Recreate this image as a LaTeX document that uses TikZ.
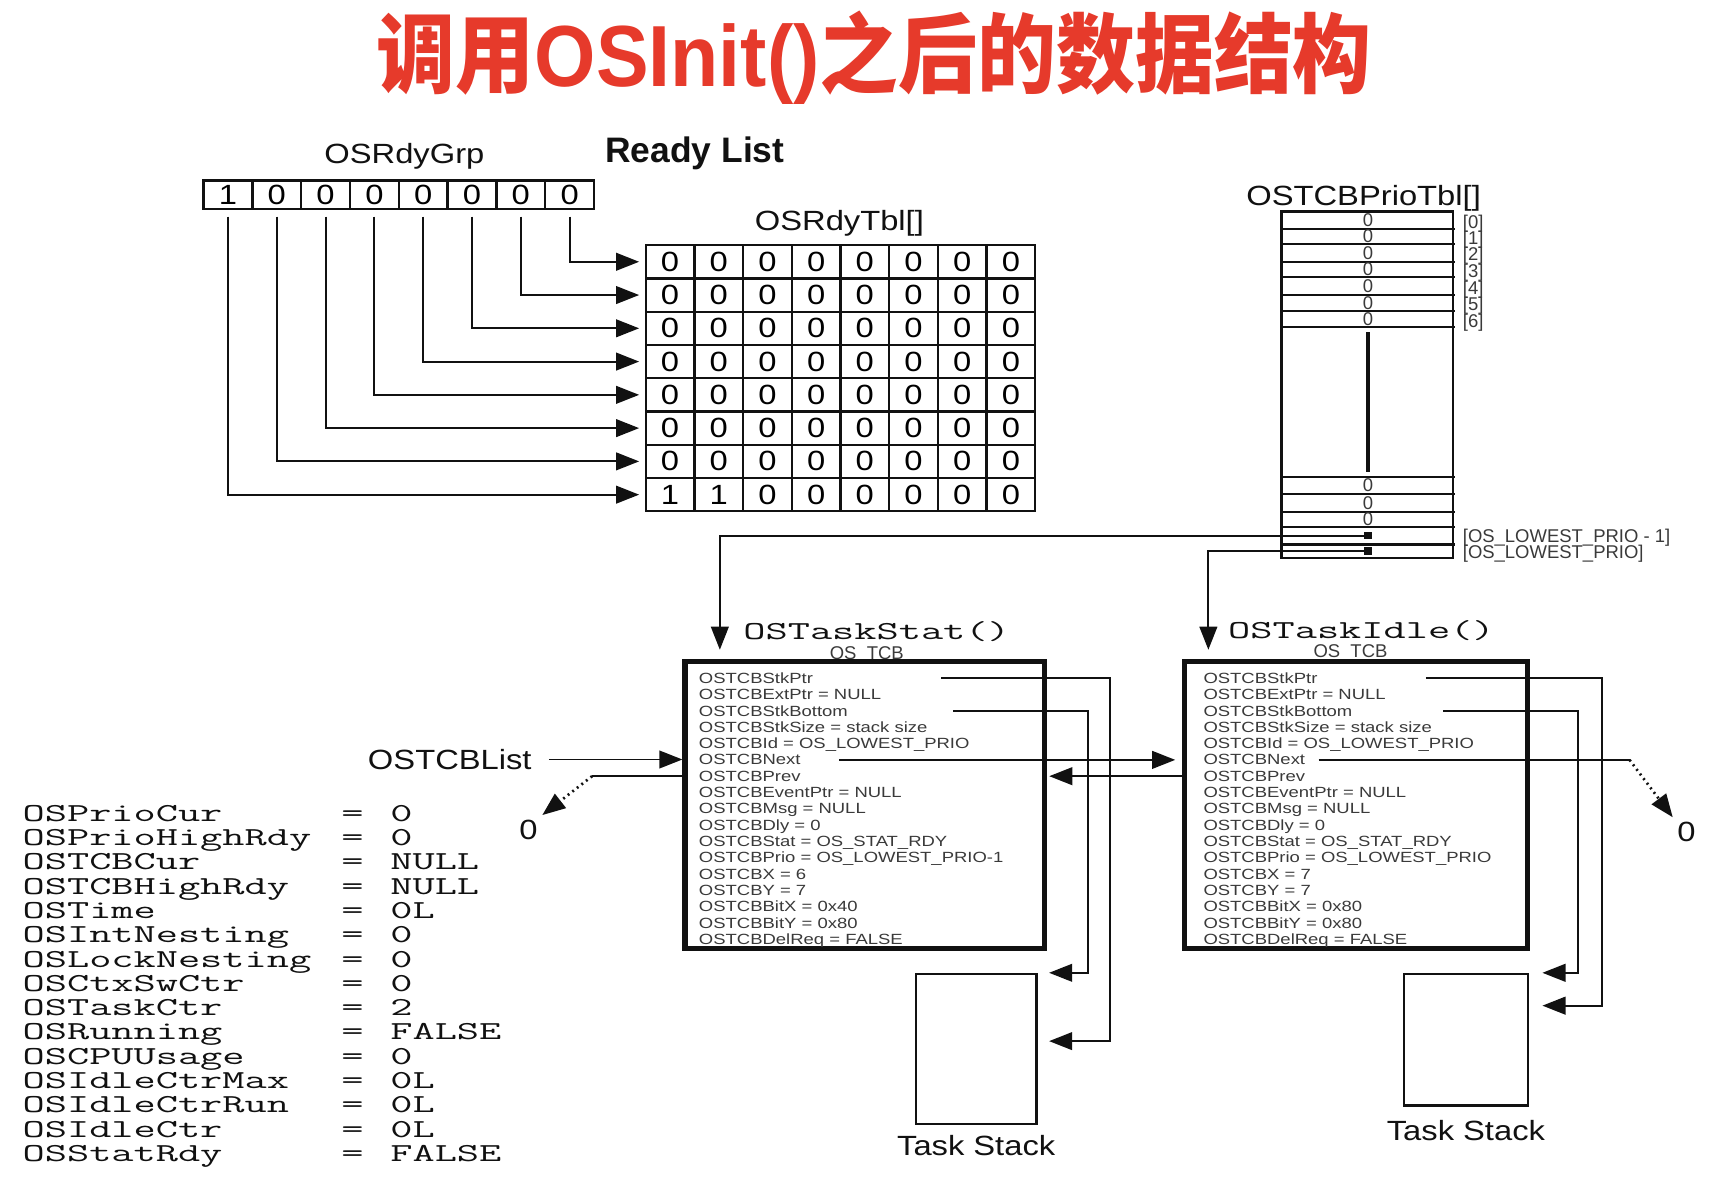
\documentclass[tikz,border=0pt]{standalone}
\usepackage{fontspec}
\setmainfont{Liberation Sans}
\newfontfamily\cjkfont{Noto Sans CJK SC}
\usepackage{graphicx}
\usetikzlibrary{arrows.meta,positioning}
\definecolor{osRed}{HTML}{E63A2B}
\definecolor{osInk}{HTML}{111111}
\definecolor{osGrey}{HTML}{3A3A3A}
% vertical squeeze, the screenshot is stretched sideways
\newcommand{\vsq}[2]{\scalebox{1}[#1]{#2}}
\tikzset{
  os/line/.style={draw=osInk, line width=0.5pt},
  os/arrow/.style={os/line, -{Triangle[length=6pt,width=4.6pt]}},
  os/dotted/.style={os/arrow, densely dotted, line width=0.7pt},
  os/title/.style={font=\fontsize{20.5}{24}\selectfont\bfseries, text=osRed},
  os/label/.style={font=\fontsize{8.5}{9}\selectfont, text=osInk, inner sep=1pt},
  os/heading/.style={font=\fontsize{9.2}{10}\selectfont\bfseries, text=osInk},
  os/cell/.style={draw=osInk, line width=0.6pt, inner sep=0pt,
    minimum width=0.445cm, minimum height=0.304cm,
    font=\fontsize{8.5}{9}\selectfont},
  os/mono/.style={font=\fontsize{11.2}{12}\selectfont\ttfamily, text=osInk,
    inner sep=0pt},
  os/field/.style={font=\fontsize{4.8}{5}\selectfont, text=osGrey,
    inner sep=0pt, anchor=base west},
  os/tiny/.style={font=\fontsize{4.8}{5}\selectfont, text=osGrey, inner sep=0pt},
  os/tcb/.style={draw=osInk, line width=1.4pt, inner sep=0pt,
    minimum height=2.62cm},
  os/stack/.style={draw=osInk, line width=0.6pt, inner sep=0pt},
}

\begin{document}
\begin{tikzpicture}[x=0.01cm, y=-0.01cm,
    arrow/.style={os/arrow},
    cell/.style={os/cell},
    field/.style={os/field},
]
\fill[white] (0,0) rectangle (1568,1091);
\useasboundingbox (0,0) rectangle (1568,1091);

\node[os/title] (title) at (799,53)
  {\vsq{1.1}{\cjkfont 调用{\rmfamily OSInit()}之后的数据结构}};

% ready list: OSRdyGrp and OSRdyTbl[]
\node[os/label] (grpLbl) at (369.5,143) {\vsq{0.85}{OSRdyGrp}};
\node[os/heading] (rdyLbl) at (635,140) {Ready List};
\foreach \b in {0,...,7} {
    \pgfmathsetmacro{\gx}{186+44.6*(7-\b)+22.3}
    \pgfmathtruncatemacro{\v}{\b==7}
    \node[cell, minimum width=0.446cm, minimum height=0.26cm] (grp\b) at (\gx,178)
      {\raisebox{-1.5pt}{\vsq{0.85}{\v}}};
}
\node[os/label] (tblLbl) at (767,204) {\vsq{0.85}{OSRdyTbl[]}};
\foreach \r in {0,...,7} {
    \foreach \b in {0,...,7} {
        \pgfmathsetmacro{\cx}{590+44.5*(7-\b)+22.25}
        \pgfmathsetmacro{\cy}{224+30.4*\r+15.2}
        \pgfmathtruncatemacro{\v}{(\r==7)&&(\b>5)}
        \node[cell] (t\r-\b) at (\cx,\cy) {\vsq{0.85}{\v}};
    }
}
\foreach \b in {0,...,7}
    \draw[arrow, shorten <=1.7pt, shorten >=1.4pt] (grp\b.south) |- (t\b-7.west);

% OSTCBPrioTbl[]
\node[os/label] (prioLbl) at (1246,181) {\vsq{0.85}{OSTCBPrioTbl[]}};
\node[os/stack, minimum width=1.564cm, minimum height=3.162cm] (prio) at (1249.2,351.5) {};
\foreach \y in {209.2,223,239.1,253.4,269.6,283.9,299.1,435.6,451.4,467.6,481.8,497.4}
    \draw[os/line, line width=0.6pt] (prio.west |- 0,\y) -- ++(160,0);
\foreach \y [count=\i from 0] in {201.3,216.1,231,246.2,261.5,276.8,291.5} {
    \node[os/tiny] (pe\i) at (1250,\y) {0};
    \node[os/tiny, anchor=west] (pl\i) at (1336,\y+3) {[\i]};
}
\foreach \y [count=\i from 7] in {443.5,459.5,474.7}
    \node[os/tiny] (pe\i) at (1250,\y) {0};
\draw[os/line, line width=0.8pt, shorten <=1.5pt, shorten >=1.5pt] (pe6.south) -- (pe7.north);
\node[fill=osInk, minimum size=0.065cm, inner sep=0pt] (lowA) at (1250,489.6) {};
\node[fill=osInk, minimum size=0.065cm, inner sep=0pt] (lowB) at (1250,503.5) {};
\node[os/tiny, anchor=west] (lowALbl) at (1336,491) {[OS\_LOWEST\_PRIO - 1]};
\node[os/tiny, anchor=west] (lowBLbl) at (1336,506) {[OS\_LOWEST\_PRIO]};

% the two OS_TCBs
\node[os/mono] (statName) at (801,577) {\vsq{0.6}{OSTaskStat()}};
\node[os/tiny] (statTcb) at (792,598) {OS\_TCB};
\node[os/mono] (idleName) at (1244,576) {\vsq{0.6}{OSTaskIdle()}};
\node[os/tiny] (idleTcb) at (1234,597) {OS\_TCB};
\node[os/tcb, minimum width=3.28cm] (stat) at (790.1,735.7) {};
\node[os/tcb, minimum width=3.13cm] (idle) at (1238.9,735.7) {};

\foreach \fld [count=\i] in {OSTCBStkPtr, OSTCBExtPtr = NULL, OSTCBStkBottom,
    OSTCBStkSize = stack size, OSTCBId = OS\_LOWEST\_PRIO, OSTCBNext, OSTCBPrev,
    OSTCBEventPtr = NULL, OSTCBMsg = NULL, OSTCBDly = 0,
    OSTCBStat = OS\_STAT\_RDY, OSTCBPrio = OS\_LOWEST\_PRIO-1, OSTCBX = 6,
    OSTCBY = 7, OSTCBBitX = 0x40, OSTCBBitY = 0x80, OSTCBDelReq = FALSE} {
    \pgfmathsetmacro{\fy}{624.5+14.9*(\i-1)}
    \node[field] (s\i) at (638,\fy) {\vsq{0.8}{\fld}};
}
\foreach \fld [count=\i] in {OSTCBStkPtr, OSTCBExtPtr = NULL, OSTCBStkBottom,
    OSTCBStkSize = stack size, OSTCBId = OS\_LOWEST\_PRIO, OSTCBNext, OSTCBPrev,
    OSTCBEventPtr = NULL, OSTCBMsg = NULL, OSTCBDly = 0,
    OSTCBStat = OS\_STAT\_RDY, OSTCBPrio = OS\_LOWEST\_PRIO, OSTCBX = 7,
    OSTCBY = 7, OSTCBBitX = 0x80, OSTCBBitY = 0x80, OSTCBDelReq = FALSE} {
    \pgfmathsetmacro{\fy}{624.5+14.9*(\i-1)}
    \node[field] (i\i) at (1099,\fy) {\vsq{0.8}{\fld}};
}

\draw[arrow, shorten >=2.4pt] (lowA.center) -| ([xshift=0.342cm]stat.north west);
\draw[arrow, shorten >=2.4pt] (lowB.center) -| ([xshift=0.243cm]idle.north west);

% task stacks
\node[os/stack, minimum width=1.1cm, minimum height=1.37cm] (sstk) at (892,958.5) {};
\node[os/label, below=0.05cm of sstk] (sstkLbl) {\vsq{0.85}{Task Stack}};
\node[os/stack, minimum width=1.13cm, minimum height=1.2cm] (istk) at (1339.5,950) {};
\node[os/label, below=0.08cm of istk] (istkLbl) {\vsq{0.85}{Task Stack}};

\coordinate (sPtr) at (860,0 |- s1.center);
\coordinate (sBot) at (871,0 |- s3.center);
\path ([yshift=-0.624cm]sstk.north east) coordinate (sPtrIn);
\draw[arrow, shorten >=3pt] (sPtr) -| (1014,0 |- sPtrIn) -- (sPtrIn);
\draw[arrow, shorten >=3pt] (sBot) -| (994,0 |- sstk.north east) -- (sstk.north east);

\coordinate (iPtr) at (1303,0 |- i1.center);
\coordinate (iBot) at (1319,0 |- i3.center);
\path ([yshift=-0.3cm]istk.north east) coordinate (iPtrIn);
\draw[arrow, shorten >=3.5pt] (iPtr) -| (1463.5,0 |- iPtrIn) -- (iPtrIn);
\draw[arrow, shorten >=3.5pt] (iBot) -| (1442,0 |- istk.north east) -- (istk.north east);

% doubly linked TCB list
\node[os/label] (listLbl) at (411,694) {\vsq{0.85}{OSTCBList}};
\draw[arrow, shorten <=3.3pt] (listLbl.east) -- (listLbl.east -| stat.west);
\coordinate (sNext) at (767,0 |- s6.center);
\draw[arrow, shorten >=1.7pt] (sNext) -- (sNext -| idle.west);
\coordinate (iPrev) at (idle.west |- i7.center);
\draw[arrow, shorten >=0.6pt] (iPrev) -- (iPrev -| stat.east);

\node[os/label] (nullL) at (483,758) {\vsq{0.85}{0}};
\node[os/label] (nullR) at (1541,760) {\vsq{0.85}{0}};
\coordinate (sPrev) at (stat.west |- s7.center);
\draw[os/line] (sPrev) -- (541,0 |- sPrev) coordinate (sPrevEnd);
\draw[os/dotted] (sPrevEnd) -- (nullL.north east);
\coordinate (iNext) at (1205,0 |- i6.center);
\draw[os/line] (iNext) -- (1489,0 |- iNext) coordinate (iNextEnd);
\draw[os/dotted] (iNextEnd) -- (nullR.north west);

% global variables
\foreach \vname/\vval [count=\k] in {OSPrioCur/0, OSPrioHighRdy/0, OSTCBCur/NULL,
    OSTCBHighRdy/NULL, OSTime/0L, OSIntNesting/0, OSLockNesting/0, OSCtxSwCtr/0,
    OSTaskCtr/2, OSRunning/FALSE, OSCPUUsage/0, OSIdleCtrMax/0L, OSIdleCtrRun/0L,
    OSIdleCtr/0L, OSStatRdy/FALSE} {
    \pgfmathsetmacro{\vy}{750.5+22.2*(\k-1)}
    \node[os/mono, anchor=base west] (var\k) at (20,\vy) {\vsq{0.6}{\vname}};
    \node[os/mono, anchor=base] (eq\k) at (322,\vy) {\vsq{0.6}{=}};
    \node[os/mono, anchor=base west] (val\k) at (356,\vy) {\vsq{0.6}{\vval}};
}
\end{tikzpicture}
\end{document}
